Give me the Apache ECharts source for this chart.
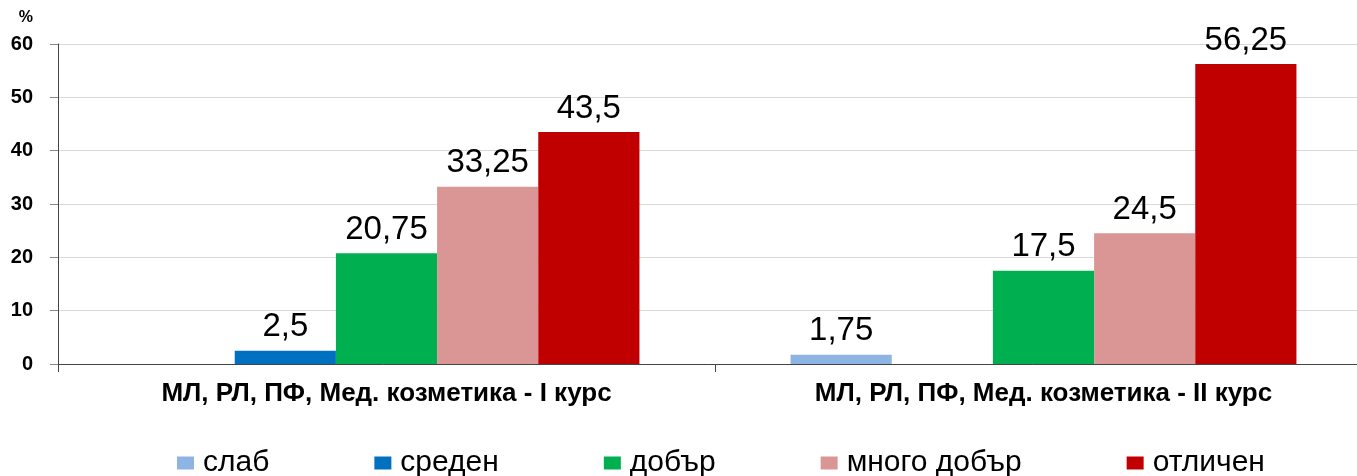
<!DOCTYPE html>
<html>
<head>
    <meta charset="utf-8">
    <title>Оценки по курсове</title>
    <script src="https://cdn.jsdelivr.net/npm/echarts@6/dist/echarts.min.js"></script>
    <style>
        html, body { margin: 0; padding: 0; background: #fff; }
    </style>
</head>
<body>
    <div id="chart" style="width: 1357px; height: 476px;"></div>

    <script>
        // categories and series (null = no bar)
        const categories = ['МЛ, РЛ, ПФ, Мед. козметика - I курс', 'МЛ, РЛ, ПФ, Мед. козметика - II курс'];
        const seriesNames = ['слаб', 'среден', 'добър', 'много добър', 'отличен'];
        const slab = [null, 1.75];
        const sreden = [2.5, null];
        const dobar = [20.75, 17.5];
        const mnogoDobar = [33.25, 24.5];
        const otlichen = [43.5, 56.25];
        const yTicks = [0, 10, 20, 30, 40, 50, 60];

        const colors = ['#8EB4E3', '#0070C0', '#00B050', '#D99694', '#C00000'];
        const font = '"Liberation Sans", Arial, sans-serif';

        const chart = echarts.init(document.getElementById('chart'));

        const makeSeries = (name, data, i) => ({
            name: name,
            type: 'bar',
            data: data,
            barGap: '0%',
            barCategoryGap: '23%',
            itemStyle: { color: colors[i] },
            label: {
                show: true,
                position: 'top',
                distance: 7,
                color: '#000',
                fontFamily: font,
                fontSize: 33,
                formatter: (p) => String(p.value).replace('.', ',')
            }
        });

        const option = {
            animation: false,
            textStyle: { fontFamily: font },
            // plot runs a little past the right edge, as in the original
            grid: { left: 58, width: 1314, top: 44, height: 320, outerBoundsMode: 'none', containLabel: false },
            legend: {
                data: seriesNames,
                top: 443,
                left: 172,
                itemWidth: 17,
                itemHeight: 13,
                itemGap: 105,
                icon: 'rect',
                textStyle: { fontFamily: font, fontSize: 30, color: '#000', padding: [0, 0, 0, 4] }
            },
            xAxis: {
                type: 'category',
                data: categories,
                axisLine: { lineStyle: { color: '#444', width: 1 } },
                axisTick: { show: true, length: 8, lineStyle: { color: '#444' } },
                axisLabel: { color: '#000', fontWeight: 'bold', fontSize: 26, margin: 17, fontFamily: font }
            },
            yAxis: {
                type: 'value',
                min: yTicks[0],
                max: yTicks[yTicks.length - 1],
                interval: 10,
                name: '%',
                nameLocation: 'end',
                nameGap: 18,
                nameTextStyle: { color: '#000', fontWeight: 'bold', fontSize: 16, align: 'right', padding: [0, 25, 0, 0] },
                axisLine: { show: true, lineStyle: { color: '#444' } },
                axisTick: { show: true, length: 8, lineStyle: { color: '#888' } },
                axisLabel: { color: '#000', fontWeight: 'bold', fontSize: 20, margin: 25, fontFamily: font },
                splitLine: { lineStyle: { color: '#D9D9D9' } }
            },
            series: [
                makeSeries(seriesNames[0], slab, 0),
                makeSeries(seriesNames[1], sreden, 1),
                makeSeries(seriesNames[2], dobar, 2),
                makeSeries(seriesNames[3], mnogoDobar, 3),
                makeSeries(seriesNames[4], otlichen, 4)
            ]
        };

        chart.setOption(option);
    </script>
</body>
</html>
